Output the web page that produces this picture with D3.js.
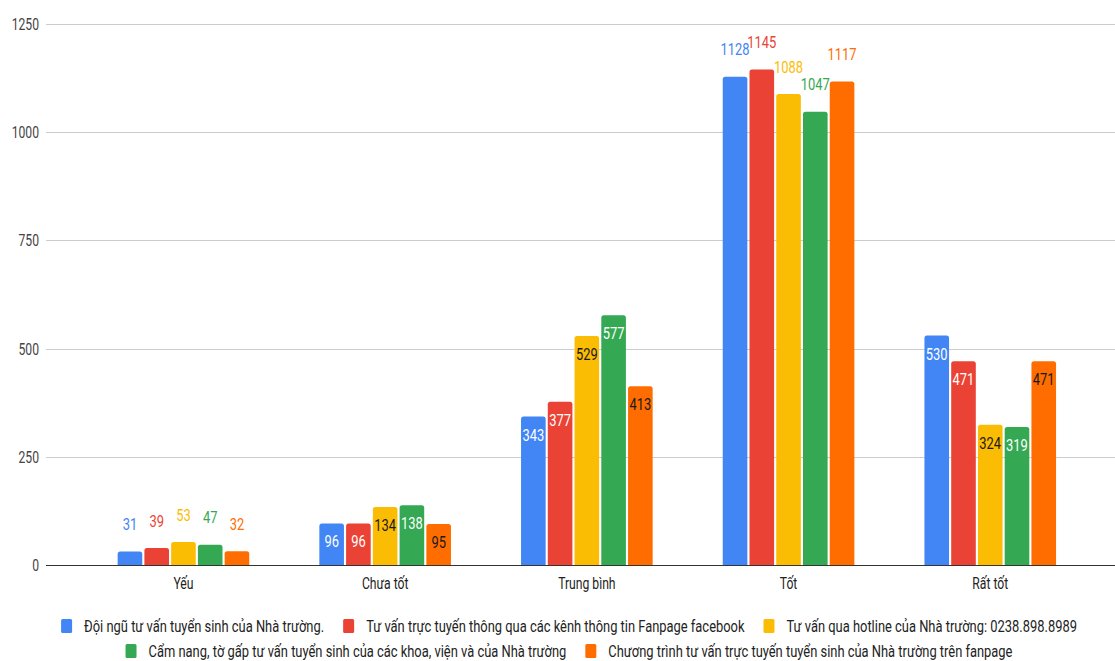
<!DOCTYPE html>
<html>
<head>
<meta charset="utf-8">
<script src="https://cdn.jsdelivr.net/npm/d3@7"></script>
<style>
  html, body { margin: 0; padding: 0; background: #fff; }
  svg { display: block; font-family: Roboto, "Noto Sans", Arial, sans-serif; }
</style>
</head>
<body>
<svg id="chart" width="1115" height="661"></svg>
<script>
// Survey categories along the x axis
const categories = ["Yếu", "Chưa tốt", "Trung bình", "Tốt", "Rất tốt"];

// One entry per consultation channel
const seriesNames = [
  "Đội ngũ tư vấn tuyển sinh của Nhà trường.",
  "Tư vấn trực tuyến thông qua các kênh thông tin Fanpage facebook",
  "Tư vấn qua hotline của Nhà trường: 0238.898.8989",
  "Cẩm nang, tờ gấp tư vấn tuyển sinh của các khoa, viện và của Nhà trường",
  "Chương trình tư vấn trực tuyến tuyển sinh của Nhà trường trên fanpage"
];

// Responses per category, one array per series
const doiNgu    = [31, 96, 343, 1128, 530];
const fanpageFb = [39, 96, 377, 1145, 471];
const hotline   = [53, 134, 529, 1088, 324];
const camNang   = [47, 138, 577, 1047, 319];
const chuongTrinh = [32, 95, 413, 1117, 471];
const seriesValues = [doiNgu, fanpageFb, hotline, camNang, chuongTrinh];

const yTicks = [0, 250, 500, 750, 1000, 1250];

const colors = ["#4285F4", "#EA4335", "#FBBC04", "#34A853", "#FF6D01"];
const insideText = ["#ffffff", "#ffffff", "#1a1a1a", "#ffffff", "#1a1a1a"];
// where value labels sit for each category group
const labelPlacement = ["outside", "inside", "inside", "outside", "inside"];

const squeeze = 0.76; // narrow lettering

const svg = d3.select("#chart");

const y = d3.scaleLinear().domain([0, 1250]).range([565, 24]);
const x0 = d3.scaleBand().domain(categories).range([82.6, 1091.1]).padding(0);
const x1 = d3.scaleBand().domain(d3.range(seriesNames.length))
  .range([0, 133.75]).paddingInner(0.08).paddingOuter(0.04);

function placeText(sel, px, py) {
  return sel.attr("x", 0).attr("y", 0)
    .attr("transform", `translate(${px},${py}) scale(${squeeze},1)`);
}

// gridlines + y tick labels
const grid = svg.append("g");
yTicks.forEach(t => {
  grid.append("line")
    .attr("x1", 46).attr("x2", 1115)
    .attr("y1", Math.round(y(t)) + 0.5).attr("y2", Math.round(y(t)) + 0.5)
    .attr("stroke", t === 0 ? "#333" : "#cccccc")
    .attr("stroke-width", 1);
  placeText(grid.append("text"), 39, y(t) + 6)
    .attr("text-anchor", "end")
    .attr("font-size", 16)
    .attr("fill", "#444")
    .text(t);
});

// bars with slightly rounded tops
function barPath(bx, by, w, h, r) {
  r = Math.min(r, h, w / 2);
  return `M${bx},${by + h}V${by + r}Q${bx},${by} ${bx + r},${by}H${bx + w - r}Q${bx + w},${by} ${bx + w},${by + r}V${by + h}Z`;
}

const groups = svg.append("g").selectAll("g")
  .data(categories)
  .join("g")
  .attr("transform", d => `translate(${x0(d) + x0.bandwidth() / 2 - 133.75 / 2},0)`);

groups.each(function (cat, ci) {
  const g = d3.select(this);
  seriesValues.forEach((vals, si) => {
    const v = vals[ci];
    const bx = x1(si), bw = x1.bandwidth();
    const top = y(v);
    g.append("path")
      .attr("d", barPath(bx, top, bw, y(0) - top, 2.5))
      .attr("fill", colors[si]);
    const lbl = g.append("text")
      .attr("text-anchor", "middle")
      .attr("font-size", 17)
      .text(v);
    if (labelPlacement[ci] === "outside") {
      placeText(lbl, bx + bw / 2, top - 21.5).attr("fill", colors[si]);
    } else {
      placeText(lbl, bx + bw / 2, top + 24).attr("fill", insideText[si]);
    }
  });
});

// category labels
categories.forEach(c => {
  placeText(svg.append("text"), x0(c) + x0.bandwidth() / 2, 589)
    .attr("text-anchor", "middle")
    .attr("font-size", 16)
    .attr("fill", "#222")
    .text(c);
});

// legend in two centred rows
const legendRows = [[0, 1, 2], [3, 4]];
const rowY = [626, 651];
const sqW = 11, sqH = 14, sqGap = 12, itemGap = 19, legendCenter = 569;
legendRows.forEach((row, ri) => {
  const g = svg.append("g");
  const items = row.map(si => {
    const ig = g.append("g");
    ig.append("rect")
      .attr("x", 0).attr("y", rowY[ri] - sqH / 2)
      .attr("width", sqW).attr("height", sqH)
      .attr("rx", 1.5)
      .attr("fill", colors[si]);
    const t = placeText(ig.append("text"), sqW + sqGap, rowY[ri] + 5.5)
      .attr("font-size", 17)
      .attr("fill", "#222")
      .text(seriesNames[si]);
    const w = sqW + sqGap + t.node().getComputedTextLength() * squeeze;
    return { ig, w };
  });
  const total = d3.sum(items, d => d.w) + itemGap * (items.length - 1);
  let cx = legendCenter - total / 2;
  items.forEach(it => {
    it.ig.attr("transform", `translate(${cx},0)`);
    cx += it.w + itemGap;
  });
});
</script>
</body>
</html>
